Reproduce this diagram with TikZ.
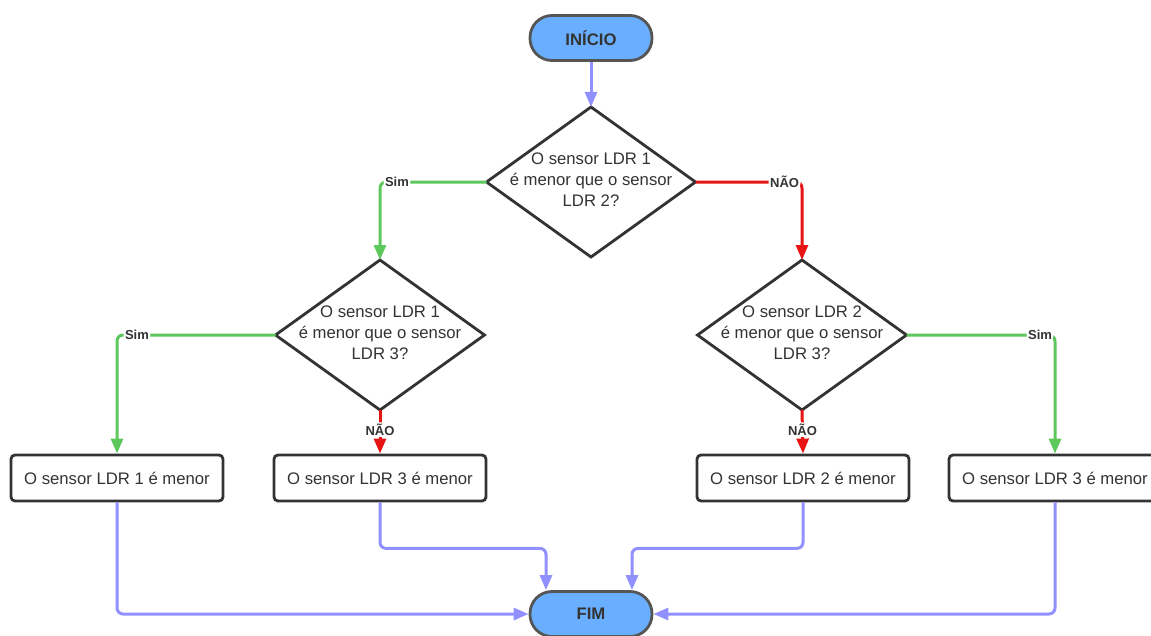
\documentclass[tikz,border=0pt]{standalone}
\usepackage{fontspec}
\setmainfont{Liberation Sans}
\usetikzlibrary{shapes.geometric,arrows.meta}
\definecolor{fillblue}{HTML}{6AAFFF}
\definecolor{termborder}{HTML}{555555}
\definecolor{darkline}{HTML}{333333}
\definecolor{txt}{HTML}{333333}
\definecolor{flowblue}{HTML}{9090FF}
\definecolor{yesgreen}{HTML}{5CC85C}
\definecolor{nored}{HTML}{E81414}
\tikzset{
  terminal/.style={draw=termborder, fill=fillblue, line width=2.8pt, rounded corners=22pt,
    minimum width=122pt, minimum height=45pt, inner sep=0pt, text=txt,
    font=\fontsize{16.7}{20}\selectfont\bfseries},
  decision/.style={diamond, draw=darkline, fill=white, line width=2.8pt, minimum width=209pt,
    minimum height=150pt, inner sep=0pt, outer sep=0pt},
  dtext/.style={align=center, text=txt, inner sep=0pt, font=\fontsize{16.7}{21}\selectfont},
  process/.style={draw=darkline, fill=white, line width=2.8pt, rounded corners=4pt,
    minimum width=212pt, minimum height=46pt, inner sep=0pt, text=txt,
    font=\fontsize{16.7}{20}\selectfont},
  conn/.style={line width=3pt, rounded corners=6pt, -{Triangle[length=15pt,width=12pt]}},
  flow/.style={conn, draw=flowblue},
  yes/.style={conn, draw=yesgreen},
  no/.style={conn, draw=nored},
  lbl/.style={fill=white, inner sep=1.5pt, text=txt, font=\fontsize{13}{14}\selectfont\bfseries}
}
\begin{document}
\begin{tikzpicture}[x=1pt,y=-1pt]
\useasboundingbox (0,0) rectangle (1151,635);
\clip (0,0) rectangle (1151,635);
\node[terminal] (inicio) at (591,38) {INÍCIO};
\node[terminal] (fim) at (591,614) {FIM};
\node[decision] (d1) at (591,182) {};
\node[decision] (d2) at (380,335) {};
\node[decision] (d3) at (802,335) {};
\node[dtext] (t1) at ([yshift=2pt]d1) {O sensor LDR 1\\é menor que o sensor\\LDR 2?};
\node[dtext] (t2) at ([yshift=2pt]d2) {O sensor LDR 1\\é menor que o sensor\\LDR 3?};
\node[dtext] (t3) at ([yshift=2pt]d3) {O sensor LDR 2\\é menor que o sensor\\LDR 3?};
\node[process] (b1) at (117,478) {O sensor LDR 1 é menor};
\node[process] (b2) at (380,478) {O sensor LDR 3 é menor};
\node[process] (b3) at (803,478) {O sensor LDR 2 é menor};
\node[process] (b4) at (1055,478) {O sensor LDR 3 é menor};
\coordinate (f2) at ([xshift=-45pt]fim.north);
\coordinate (f3) at ([xshift=41pt]fim.north);

\draw[flow] (inicio) -- (d1);
\draw[yes] (d1.west) -| node[lbl, pos=0.5, anchor=west, xshift=2pt] {Sim} (d2.north);
\draw[no] (d1.east) -| node[lbl, pos=0.5, anchor=east] {NÃO} (d3.north);
\draw[yes] (d2.west) -| node[lbl, pos=0.5, anchor=west, xshift=5pt] {Sim} (b1.north);
\draw[no] (d2.south) -- node[lbl, pos=0.45] {NÃO} (b2.north);
\draw[no] (d3.south) -- node[lbl, pos=0.45] {NÃO} (b3.north);
\draw[yes] (d3.east) -| node[lbl, pos=0.5, anchor=east] {Sim} (b4.north);

\draw[flow] (b1.south) |- (fim.west);
\draw[flow] (b2.south) -- ++(0,46) -| (f2);
\draw[flow] (b3.south) -- ++(0,46) -| (f3);
\draw[flow] (b4.south) |- (fim.east);
\end{tikzpicture}
\end{document}
